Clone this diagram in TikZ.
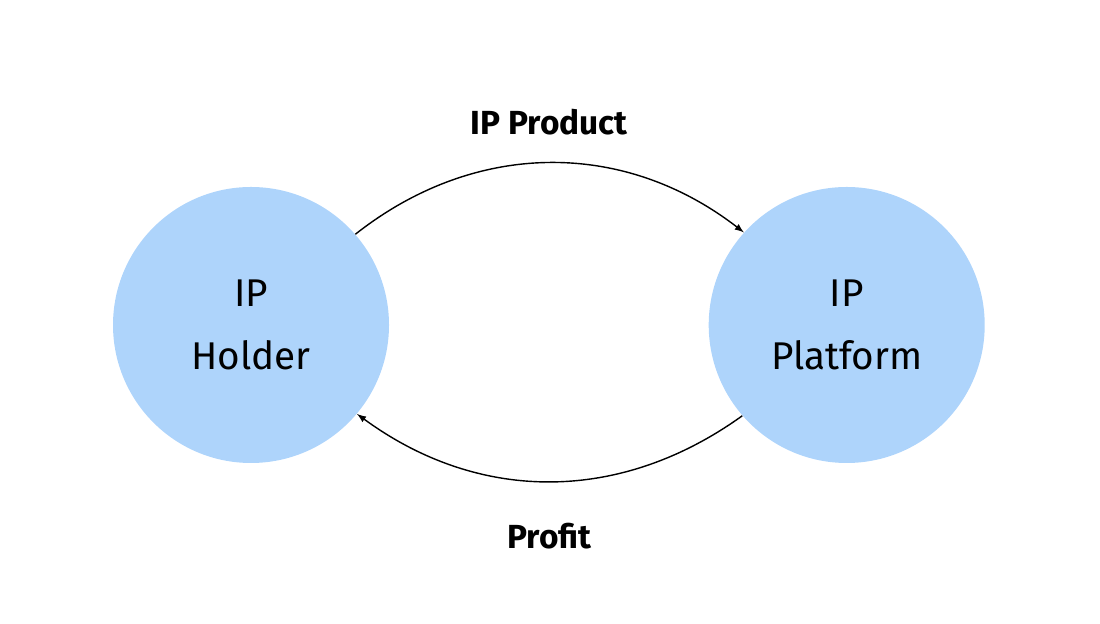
\documentclass[tikz,border=0pt]{standalone}
\usepackage{fontspec}
\setmainfont{Fira Sans}
\usetikzlibrary{positioning}
\definecolor{ipblue}{HTML}{AED4FB}
\tikzset{
    party/.style={circle, fill=ipblue, minimum size=5.52cm, inner sep=0pt,
        align=center, font=\fontsize{22}{36}\selectfont},
    flowlabel/.style={font=\fontsize{19}{23}\selectfont\bfseries}
}
\begin{document}
\begin{tikzpicture}[>=latex]
    \useasboundingbox (0,0) rectangle (22,12.48);
    % 1. Hai vòng tròn
    \node[party] (holder) at (5.02,5.98) {IP\\Holder};
    \node[party, right=6.38cm of holder] (platform) {IP\\Platform};

    % 2. Mũi tên cong
    \draw[->, thick] (holder.41) to[bend left=38]
        node[pos=0.5, above=0.42cm, flowlabel] {IP Product} (platform.138);
    \draw[->, thick] (platform.221) to[bend left=36]
        node[pos=0.5, below=0.7cm, flowlabel] {Profit} (holder.320);
\end{tikzpicture}
\end{document}
